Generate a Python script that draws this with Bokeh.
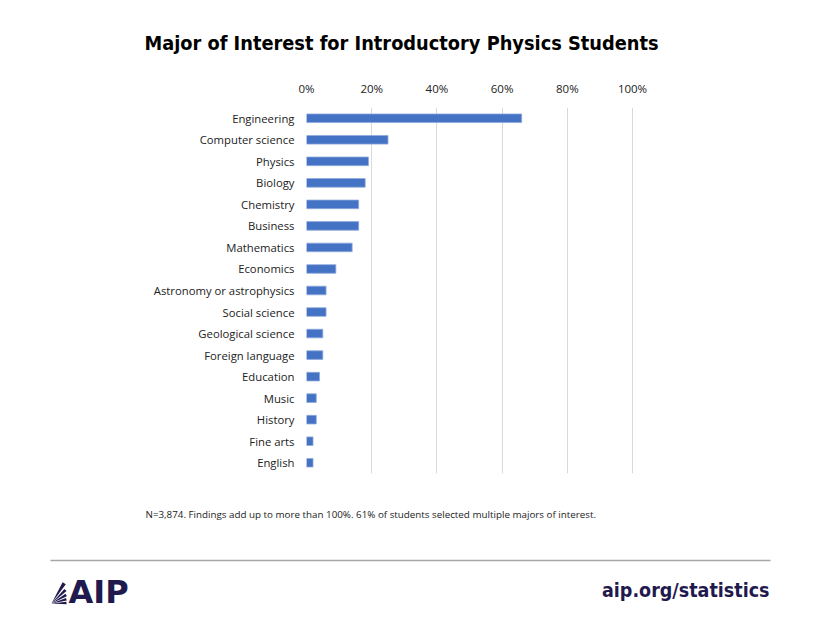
import math
from bokeh.plotting import figure
from bokeh.models import NumeralTickFormatter, FixedTicker, Range1d, FactorRange
from bokeh.layouts import column
from bokeh.core.properties import value
from bokeh.embed import file_html
from bokeh.resources import INLINE

categories = ["Engineering", "Computer science", "Physics", "Biology", "Chemistry",
              "Business", "Mathematics", "Economics", "Astronomy or astrophysics",
              "Social science", "Geological science", "Foreign language", "Education",
              "Music", "History", "Fine arts", "English"]
shares = [0.66, 0.25, 0.19, 0.18, 0.16, 0.16, 0.14, 0.09, 0.06, 0.06, 0.05, 0.05,
          0.04, 0.03, 0.03, 0.02, 0.02]
x_ticks = [0, 0.2, 0.4, 0.6, 0.8, 1.0]

title_text = "Major of Interest for Introductory Physics Students"
note_text = "N=3,874. Findings add up to more than 100%. 61% of students selected multiple majors of interest."
logo_text = "AIP"
url_text = "aip.org/statistics"

W = 820
NAVY = "#1f1a4e"
COND = "DejaVu Sans Condensed"

def blank(h):
    f = figure(width=W, height=h, output_backend="svg", toolbar_location=None,
               x_range=Range1d(0, W), y_range=Range1d(h, 0),
               min_border=0, min_border_left=0, min_border_right=0,
               min_border_top=0, min_border_bottom=0, frame_align=False)
    f.axis.visible = False
    f.grid.visible = False
    f.outline_line_color = None
    return f

# --- title strip (canvas y 0..70) ---
top = blank(70)
top.text(x=[401], y=[43], text=[title_text], text_align="center",
         text_baseline="middle", text_font=value(COND),
         text_font_style="bold", text_font_size="19.8px", text_color="#000000")

# --- main chart (canvas y 70..480) ---
FL, FR = 306, 633
p = figure(width=W, height=410, output_backend="svg", toolbar_location=None,
           y_range=FactorRange(factors=categories[::-1], range_padding=0),
           x_range=Range1d(0, 1.003),
           x_axis_location="above", frame_align=False,
           min_border_left=FL, min_border_right=W - FR,
           min_border_top=37, min_border_bottom=7)
p.outline_line_color = None

p.hbar(y=categories, right=shares, height=0.4, left=0, color="#4472C4",
       line_color="#8faadc", line_width=0.8)

xa = p.xaxis[0]
xa.ticker = FixedTicker(ticks=x_ticks)
xa.formatter = NumeralTickFormatter(format="0%")
xa.axis_line_color = None
xa.major_tick_line_color = None
xa.minor_tick_line_color = None
xa.major_label_text_font = "Open Sans"
xa.major_label_text_font_size = "11.5px"
xa.major_label_text_color = "#222222"
xa.major_label_standoff = 6

ya = p.yaxis[0]
ya.axis_line_color = None
ya.major_tick_line_color = None
ya.major_label_text_font = "Open Sans"
ya.major_label_text_font_size = "11.3px"
ya.major_label_text_color = "#222222"
ya.major_label_standoff = 6

p.ygrid.grid_line_color = None
p.xgrid.ticker = FixedTicker(ticks=x_ticks)
p.xgrid.grid_line_color = "#d9d9d9"
p.xgrid.grid_line_width = 1

# --- footer (canvas y 480..640) ---
bot = blank(160)
bot.text(x=[145], y=[34], text=[note_text], text_align="left", text_baseline="middle",
         text_font=value("Open Sans"), text_font_size="9.8px", text_color="#222222")
bot.segment(x0=[50], y0=[80], x1=[770], y1=[80], line_color="#a6a6a6", line_width=1.3)
# AIP logo fan (decorative wedges)
fan_mid = [2, 16, 30, 44, 58]
fan_r = [15, 15.5, 17, 19.5, 24]
fan_half = 4.5
bot.wedge(x=[51] * 5, y=[123] * 5, radius=fan_r,
          start_angle=[math.radians(m - fan_half) for m in fan_mid],
          end_angle=[math.radians(m + fan_half) for m in fan_mid],
          fill_color=NAVY, line_color=None)
bot.text(x=[68], y=[111.5], text=[logo_text], text_align="left", text_baseline="middle",
         text_font=value("DejaVu Sans"), text_font_style="bold", text_font_size="32px",
         text_color=NAVY)
bot.text(x=[769], y=[110], text=[url_text], text_align="right", text_baseline="middle",
         text_font=value(COND), text_font_style="bold",
         text_font_size="19.5px", text_color=NAVY)

layout = column(top, p, bot, spacing=0)
open("out.html", "w").write(file_html(layout, INLINE))
